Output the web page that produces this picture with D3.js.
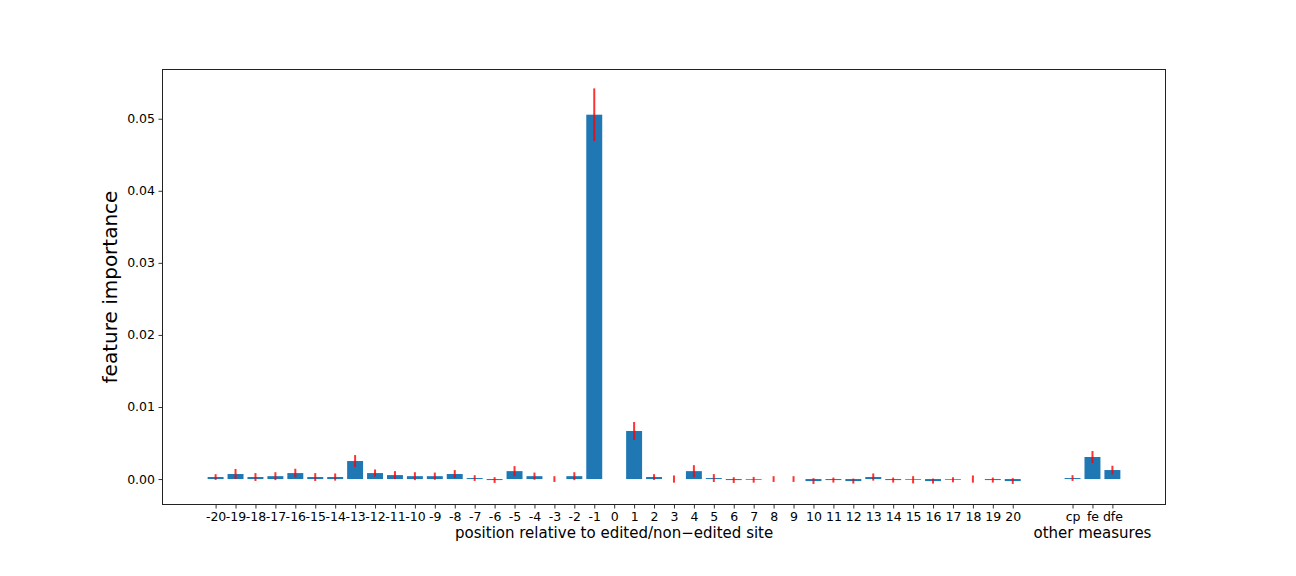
<!DOCTYPE html>
<html>
<head>
<meta charset="utf-8">
<script src="https://d3js.org/d3.v7.min.js"></script>
<style>
  html, body { margin: 0; padding: 0; background: #fff; }
  svg text { font-family: "DejaVu Sans", sans-serif; fill: #000; }
</style>
</head>
<body>
<svg id="chart" width="1296" height="576"></svg>
<script>
// ---- data ----
const positionLabels = ["-20","-19","-18","-17","-16","-15","-14","-13","-12","-11","-10","-9","-8","-7","-6","-5","-4","-3","-2","-1","0",
  "1","2","3","4","5","6","7","8","9","10","11","12","13","14","15","16","17","18","19","20"];
const positionValues = [0.00028,0.0007,0.00028,0.0004,0.00083,0.00028,0.00028,0.0025,0.00083,0.00055,0.0004,0.0004,0.0007,0.00014,-0.00014,0.0011,0.0004,0.0,0.0004,0.05056,0.0,
  0.00667,0.00028,0.0,0.0011,0.00014,-0.00014,-0.0001,0.0,0.0,-0.00028,-0.00014,-0.00028,0.00028,-0.00014,-0.0001,-0.00028,-0.0001,0.0,-0.00014,-0.00028];
const positionErrors = [0.0004,0.0007,0.00055,0.00055,0.0006,0.00055,0.0005,0.00083,0.0005,0.00055,0.00055,0.0005,0.00055,0.0004,0.0004,0.0007,0.0005,0.0004,0.00055,0.00365,0.0,
  0.00125,0.0004,0.0005,0.00083,0.00055,0.0004,0.0004,0.0004,0.0004,0.0004,0.00035,0.00035,0.0005,0.00035,0.0005,0.00035,0.00035,0.0005,0.00035,0.0004];
const otherLabels = ["cp","fe","dfe"];
const otherValues = [0.00014,0.00306,0.00125];
const otherErrors = [0.0004,0.00083,0.0006];
const yTicks = [0.00,0.01,0.02,0.03,0.04,0.05];
const xTitle = "position relative to edited/non\u2212edited site";
const otherTitle = "other measures";
const yTitle = "feature importance";

// ---- build records ----
const gap = 2;
const records = positionLabels.map((l,i) => ({label:l, idx:i, v:positionValues[i], e:positionErrors[i]}))
  .concat(otherLabels.map((l,i) => ({label:l, idx:positionLabels.length + gap + i, v:otherValues[i], e:otherErrors[i]})));

const svg = d3.select("#chart");
const L = 162, R = 1166, T = 69, B = 505;
const barW = 0.8;
const nIdx = records[records.length-1].idx;
const span = (nIdx + barW/2) - (-barW/2);
const x = d3.scaleLinear().domain([-barW/2 - 0.05*span, nIdx + barW/2 + 0.05*span]).range([L, R]);
const y = d3.scaleLinear().domain([-0.0036, 0.0569]).range([B, T]);

// bars
svg.append("g").selectAll("rect").data(records).join("rect")
  .attr("x", d => x(d.idx - barW/2))
  .attr("width", d => x(d.idx + barW/2) - x(d.idx - barW/2))
  .attr("y", d => y(Math.max(0, d.v)))
  .attr("height", d => Math.abs(y(0) - y(d.v)))
  .attr("fill", "#1f77b4");

// error bars
svg.append("g").selectAll("line").data(records.filter(d => d.e > 0)).join("line")
  .attr("x1", d => x(d.idx)).attr("x2", d => x(d.idx))
  .attr("y1", d => y(d.v - d.e)).attr("y2", d => y(d.v + d.e))
  .attr("stroke", "red").attr("stroke-opacity", 0.8).attr("stroke-width", 2);

// axes
const xAxis = d3.axisBottom(x).tickValues(records.map(d => d.idx))
  .tickFormat((d,i) => records[i].label).tickSizeOuter(0).tickSize(3.5).tickPadding(3.5);
const gx = svg.append("g").attr("transform", `translate(0,${B})`).call(xAxis);
gx.select(".domain").remove();
gx.selectAll("text").style("font-size", "12.5px").style("font-family", "DejaVu Sans");
gx.selectAll("line").attr("stroke", "#000").attr("stroke-width", 0.8);

const yAxis = d3.axisLeft(y).tickValues(yTicks).tickFormat(d3.format(".2f"))
  .tickSizeOuter(0).tickSize(3.5).tickPadding(3.5);
const gy = svg.append("g").attr("transform", `translate(${L},0)`).call(yAxis);
gy.select(".domain").remove();
gy.selectAll("text").style("font-size", "12.5px").style("font-family", "DejaVu Sans");
gy.selectAll("line").attr("stroke", "#000").attr("stroke-width", 0.8);

// frame
svg.append("rect").attr("x", L + 0.5).attr("y", T + 0.5).attr("width", R - L - 1).attr("height", B - T - 1)
  .attr("fill", "none").attr("stroke", "#222").attr("stroke-width", 1).attr("shape-rendering", "crispEdges");

// titles
const posMid = (x(0) + x(positionLabels.length - 1)) / 2;
svg.append("text").attr("x", posMid).attr("y", 538).attr("text-anchor", "middle")
  .style("font-size", "15px").text(xTitle);
const otherMid = x(positionLabels.length + gap + (otherLabels.length - 1) / 2);
svg.append("text").attr("x", otherMid).attr("y", 538).attr("text-anchor", "middle")
  .style("font-size", "15px").text(otherTitle);
svg.append("text").attr("transform", `translate(117,${(T + B) / 2}) rotate(-90)`)
  .attr("text-anchor", "middle").style("font-size", "20px").text(yTitle);
</script>
</body>
</html>
